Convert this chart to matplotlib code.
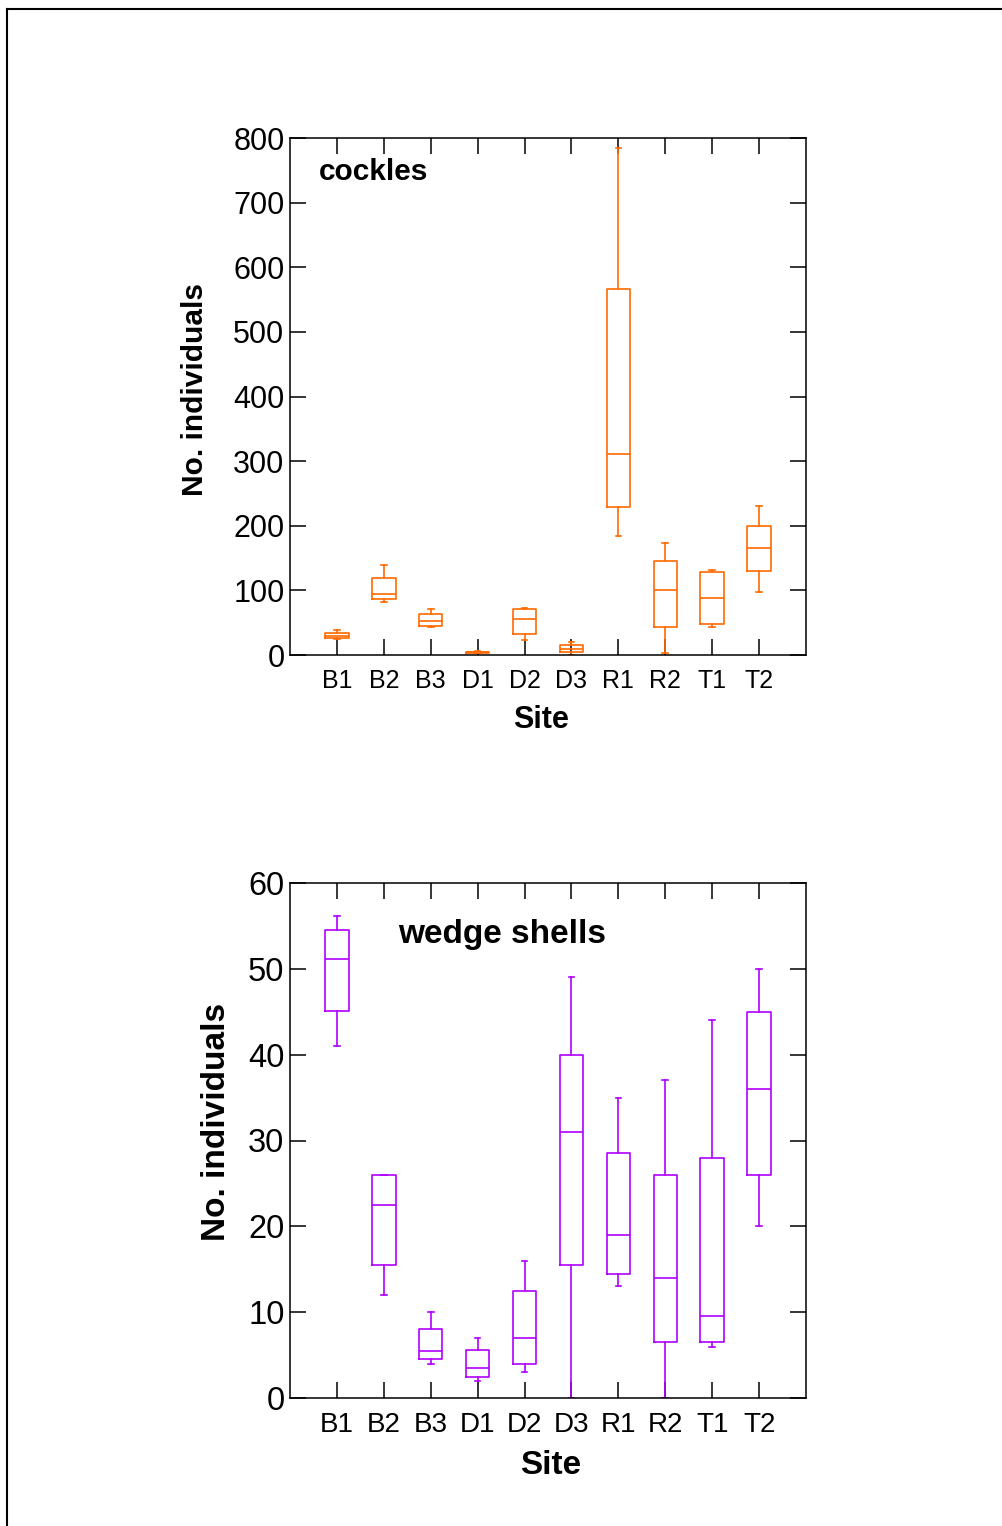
import matplotlib
matplotlib.use("Agg")
import matplotlib.pyplot as plt
from matplotlib.lines import Line2D

plt.rcParams['font.family'] = ['Liberation Sans', 'DejaVu Sans']

sites = ['B1', 'B2', 'B3', 'D1', 'D2', 'D3', 'R1', 'R2', 'T1', 'T2']

# cockles: whisker low, q1, median, q3, whisker high
cockles_lo = [24, 82, 43.5, 2.6, 23, 0, 184, 2.6, 43.5, 97]
cockles_q1 = [26, 87, 45.6, 3.1, 32, 5.2, 228.6, 43, 47.7, 130]
cockles_med = [29.5, 94, 52.3, 4.1, 56, 9.8, 310.7, 100.5, 88.6, 166]
cockles_q3 = [34.7, 118.7, 64.2, 5.2, 71, 15, 566, 145, 129, 200]
cockles_hi = [39, 140, 71.5, 6.2, 72.5, 19.7, 784, 174, 132, 230.6]

# wedge shells
wedge_lo = [41, 12, 4, 2, 3, 0, 13, 0, 6, 20]
wedge_q1 = [45.1, 15.5, 4.5, 2.5, 4, 15.5, 14.5, 6.5, 6.5, 26]
wedge_med = [51.1, 22.5, 5.5, 3.45, 7, 31, 19, 14, 9.5, 36]
wedge_q3 = [54.5, 26, 8, 5.55, 12.5, 40, 28.5, 26, 28, 45]
wedge_hi = [56.2, 26, 10, 7, 16, 49, 35, 37, 44, 50]


def make_stats(lo, q1, med, q3, hi):
    return [dict(whislo=a, q1=b, med=c, q3=d, whishi=e, fliers=[])
            for a, b, c, d, e in zip(lo, q1, med, q3, hi)]


def draw_panel(ax, stats, color, ymax, ystep, tick_fs, xtick_fs, xpad,
               xlab_fs, ylab_fs, title, title_pos, title_fs):
    lw = 1.2
    ax.bxp(stats, positions=range(1, len(sites) + 1), widths=0.5, capwidths=0.12,
           showfliers=False, patch_artist=False,
           boxprops=dict(color=color, linewidth=lw),
           whiskerprops=dict(color=color, linewidth=lw),
           capprops=dict(color=color, linewidth=lw),
           medianprops=dict(color=color, linewidth=lw))
    ax.set_xlim(0, 11)
    ax.set_ylim(0, ymax)
    ax.set_xticks(range(1, len(sites) + 1))
    ax.set_xticklabels(sites, fontsize=xtick_fs)
    ax.set_yticks(range(0, ymax + 1, ystep))
    ax.tick_params(axis='y', labelsize=tick_fs, pad=4)
    ax.tick_params(direction='in', length=11.5, width=1.1, top=True, right=True)
    ax.tick_params(axis='x', pad=xpad)
    for s in ax.spines.values():
        s.set_linewidth(1.1)
    ax.set_xlabel('Site', fontsize=xlab_fs, fontweight='bold')
    ax.set_ylabel('No. individuals', fontsize=ylab_fs, fontweight='bold')
    ax.text(title_pos[0], title_pos[1], title, transform=ax.transAxes,
            fontsize=title_fs, fontweight='bold', va='center', ha='left')


W, H = 1003, 1526
fig = plt.figure(figsize=(W / 100, H / 100), dpi=100)

# axes in pixel coords -> figure fraction
ax1 = fig.add_axes([290 / W, 1 - 655 / H, 516 / W, 517 / H])
ax2 = fig.add_axes([290 / W, 1 - 1398 / H, 516 / W, 515 / H])

draw_panel(ax1, make_stats(cockles_lo, cockles_q1, cockles_med, cockles_q3, cockles_hi),
           '#ff6a00', 800, 100, 22, 18, 10, 22, 21.5,
           'cockles', (0.055, 0.935), 21.5)
draw_panel(ax2, make_stats(wedge_lo, wedge_q1, wedge_med, wedge_q3, wedge_hi),
           '#b000ff', 60, 10, 23.5, 20, 10, 24, 24,
           'wedge shells', (0.21, 0.9), 24)

ax1.yaxis.set_label_coords(-0.157, 0.513)
ax2.yaxis.set_label_coords(-0.113, 0.537)
ax1.xaxis.set_label_coords(0.486, -0.0967)
ax2.xaxis.set_label_coords(0.506, -0.101)

# outer frame (top and left edges only)
fig.add_artist(Line2D([7.5 / W, 7.5 / W], [0, 1 - 8.5 / H], color='black', linewidth=1.5))
fig.add_artist(Line2D([7.5 / W, 1], [1 - 8.5 / H, 1 - 8.5 / H], color='black', linewidth=1.5))

fig.savefig('out.png', dpi=100)
